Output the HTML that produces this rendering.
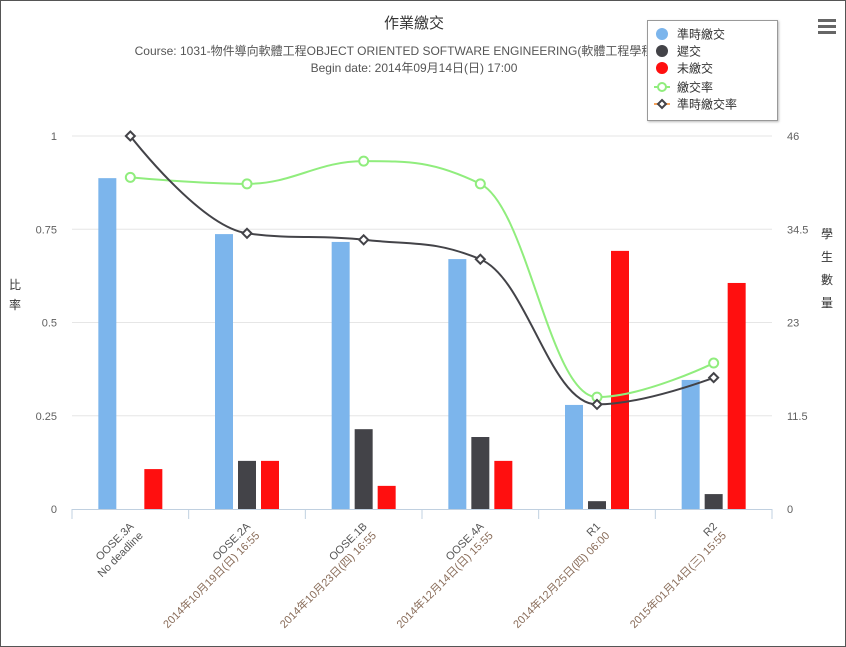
<!DOCTYPE html>
<html><head><meta charset="utf-8"><style>
html,body{margin:0;padding:0;background:#fff}
#wrap{position:relative;width:844px;height:645px;border:1px solid #555;overflow:hidden;font-family:"Liberation Sans","Noto Sans CJK TC",sans-serif}
svg text{font-family:"Liberation Sans","Noto Sans CJK TC",sans-serif}
</style></head><body>
<div id="wrap">
<svg id="chart" width="844" height="645" xmlns="http://www.w3.org/2000/svg">
<text x="413" y="27" text-anchor="middle" font-size="15" fill="#333">作業繳交</text>
<text x="413" y="54" text-anchor="middle" font-size="12" fill="#555">Course: 1031-物件導向軟體工程OBJECT ORIENTED SOFTWARE ENGINEERING(軟體工程學程資訊三)</text>
<text x="413" y="71" text-anchor="middle" font-size="12" fill="#555">Begin date: 2014年09月14日(日) 17:00</text>
<g id="grid"></g>
<g id="bars"></g>
<g id="lines"></g>
<g id="axes"></g>
<text x="14" y="288" font-size="12" fill="#333" text-anchor="middle"><tspan x="14" y="288">比</tspan><tspan x="14" y="308">率</tspan></text>
<text x="826" y="237" font-size="12" fill="#333" text-anchor="middle"><tspan x="826" y="237">學</tspan><tspan x="826" y="260">生</tspan><tspan x="826" y="283">數</tspan><tspan x="826" y="306">量</tspan></text>
<g>
<rect x="646.5" y="19.5" width="130" height="100" fill="#fff" stroke="#999" style="filter:drop-shadow(1px 1px 1px #bbb)"/>
<g><circle cx="661" cy="33" r="6" fill="#7cb5ec"/><text x="676" y="37.5" font-size="12" fill="#333">準時繳交</text></g>
<g><circle cx="661" cy="50" r="6" fill="#434348"/><text x="676" y="54.5" font-size="12" fill="#333">遲交</text></g>
<g><circle cx="661" cy="67" r="6" fill="#ff0f0f"/><text x="676" y="71.5" font-size="12" fill="#333">未繳交</text></g>
<g><line x1="653" y1="86" x2="669" y2="86" stroke="#90ed7d" stroke-width="2"/><circle cx="661" cy="86" r="4" fill="#fff" stroke="#90ed7d" stroke-width="2"/><text x="676" y="90.5" font-size="12" fill="#333">繳交率</text></g>
<g><line x1="653" y1="103" x2="669" y2="103" stroke="#f7a35c" stroke-width="2"/><path d="M661 99 L665 103 L661 107 L657 103 Z" fill="#fff" stroke="#434348" stroke-width="2"/><text x="676" y="107.5" font-size="12" fill="#333">準時繳交率</text></g>
</g>
<g><rect x="817" y="18" width="18" height="3" fill="#666"/><rect x="817" y="24" width="18" height="3" fill="#666"/><rect x="817" y="30" width="18" height="3" fill="#666"/></g>
</svg>
</div>
<script>
const categories=["OOSE.3A","OOSE.2A","OOSE.1B","OOSE.4A","R1","R2"];
const dates=["No deadline","2014年10月19日(日) 16:55","2014年10月23日(四) 16:55","2014年12月14日(日) 15:55","2014年12月25日(四) 06:00","2015年01月14日(三) 15:55"];
const onTime=[0.887,0.737,0.716,0.67,0.279,0.346];
const late=[0,0.129,0.214,0.193,0.021,0.04];
const missing=[0.107,0.129,0.062,0.129,0.692,0.606];
const submitCount=[40.9,40.1,42.9,40.1,13.8,18.0];
const onTimeCount=[46,34.0,33.2,30.8,12.9,16.2];
const leftTicks=[0,0.25,0.5,0.75,1];
const rightTicks=[0,11.5,23,34.5,46];

const NS="http://www.w3.org/2000/svg";
const L=71,R=771,T=135,B=508;
const cw=(R-L)/categories.length;
const xC=i=>L+cw*(i+0.5);
const yL=v=>B-(v/1)*(B-T);
const yR=v=>B-(v/46)*(B-T);
function mk(tag,attrs,parent){const e=document.createElementNS(NS,tag);for(const k in attrs)e.setAttribute(k,attrs[k]);parent.appendChild(e);return e;}
const grid=document.getElementById('grid'),bars=document.getElementById('bars'),lines=document.getElementById('lines'),axes=document.getElementById('axes');
leftTicks.forEach((t,i)=>{
  const y=yL(t);
  if(t>0){const g=mk('line',{x1:L,x2:R,y1:y,y2:y,stroke:'#e6e6e6','stroke-width':1},grid);
  
  }
  const tx=mk('text',{x:56,y:y+4,'text-anchor':'end','font-size':11,fill:'#606060'},axes);tx.textContent=t;
  
  
});
rightTicks.forEach(t=>{
  const tx=mk('text',{x:786,y:yR(t)+4,'text-anchor':'start','font-size':11,fill:'#606060'},axes);tx.textContent=t;
  
  
});
const ax=mk('line',{x1:L,x2:R,y1:B+0.5,y2:B+0.5,stroke:'#c0d0e0','stroke-width':1},axes);


for(let i=0;i<=categories.length;i++){
  const x=L+cw*i;
  const tk=mk('line',{x1:x,x2:x,y1:B,y2:B+10,stroke:'#c0d0e0'},axes);
  
  
}
const series=[[onTime,'#7cb5ec',-23,'bar-ontime'],[late,'#434348',0,'bar-late'],[missing,'#ff0f0f',23,'bar-missing']];
series.forEach(([vals,col,off,nm])=>{
  vals.forEach((v,i)=>{
    const x=xC(i)+off-9,y=yL(v);
    const r=mk('rect',{x:x,y:y,width:18,height:B-y,fill:col},bars);
    
    
  });
});
function spline(pts){
  let d='M'+pts[0][0]+' '+pts[0][1];
  const s=1.5;
  function ctrl(i){
    if(i===0||i===pts.length-1)return null;
    const p=pts[i-1],c=pts[i],n=pts[i+1];
    let lx=(s*c[0]+p[0])/(s+1),ly=(s*c[1]+p[1])/(s+1),rx=(s*c[0]+n[0])/(s+1),ry=(s*c[1]+n[1])/(s+1);
    let cy=ly;
    if(rx!==lx) cy=((ry-ly)*(c[0]-lx))/(rx-lx)+ly;
    const dy=c[1]-cy;ly+=dy;ry+=dy;
    if(ly>p[1]&&ly>c[1]){ly=Math.max(p[1],c[1]);ry=2*c[1]-ly;}else if(ly<p[1]&&ly<c[1]){ly=Math.min(p[1],c[1]);ry=2*c[1]-ly;}
    if(ry>n[1]&&ry>c[1]){ry=Math.max(n[1],c[1]);ly=2*c[1]-ry;}else if(ry<n[1]&&ry<c[1]){ry=Math.min(n[1],c[1]);ly=2*c[1]-ry;}
    return [[lx,ly],[rx,ry]];
  }
  for(let i=1;i<pts.length;i++){
    const a=ctrl(i-1),b=ctrl(i);
    const c1=a?a[1]:pts[i-1],c2=b?b[0]:pts[i];
    d+=' C'+c1[0]+' '+c1[1]+' '+c2[0]+' '+c2[1]+' '+pts[i][0]+' '+pts[i][1];
  }
  return d;
}
const gp=submitCount.map((v,i)=>[xC(i),yR(v)]);
const bp=onTimeCount.map((v,i)=>[xC(i),yR(v)]);
const gl=mk('path',{d:spline(gp),fill:'none',stroke:'#90ed7d','stroke-width':2},lines);


const bl=mk('path',{d:spline(bp),fill:'none',stroke:'#434348','stroke-width':2},lines);


gp.forEach(p=>{const c=mk('circle',{cx:p[0],cy:p[1],r:4.5,fill:'#fff',stroke:'#90ed7d','stroke-width':2},lines);
  
  });
bp.forEach(p=>{const c=mk('path',{d:`M${p[0]} ${p[1]-4.5} L${p[0]+4.5} ${p[1]} L${p[0]} ${p[1]+4.5} L${p[0]-4.5} ${p[1]} Z`,fill:'#fff',stroke:'#434348','stroke-width':2},lines);
  
  });
categories.forEach((c,i)=>{
  const x=xC(i)+4,y=B+18;
  const t=mk('text',{x:x,y:y,'text-anchor':'end','font-size':11,fill:'#555',transform:`rotate(-45 ${x} ${y})`},axes);
  
  
  const s1=mk('tspan',{x:x,y:y},t);s1.textContent=c;
  const s2=mk('tspan',{x:x,dy:13,fill:i===0?'#555':'#8a6d5a'},t);s2.textContent=dates[i];
});
</script>
</body></html>
